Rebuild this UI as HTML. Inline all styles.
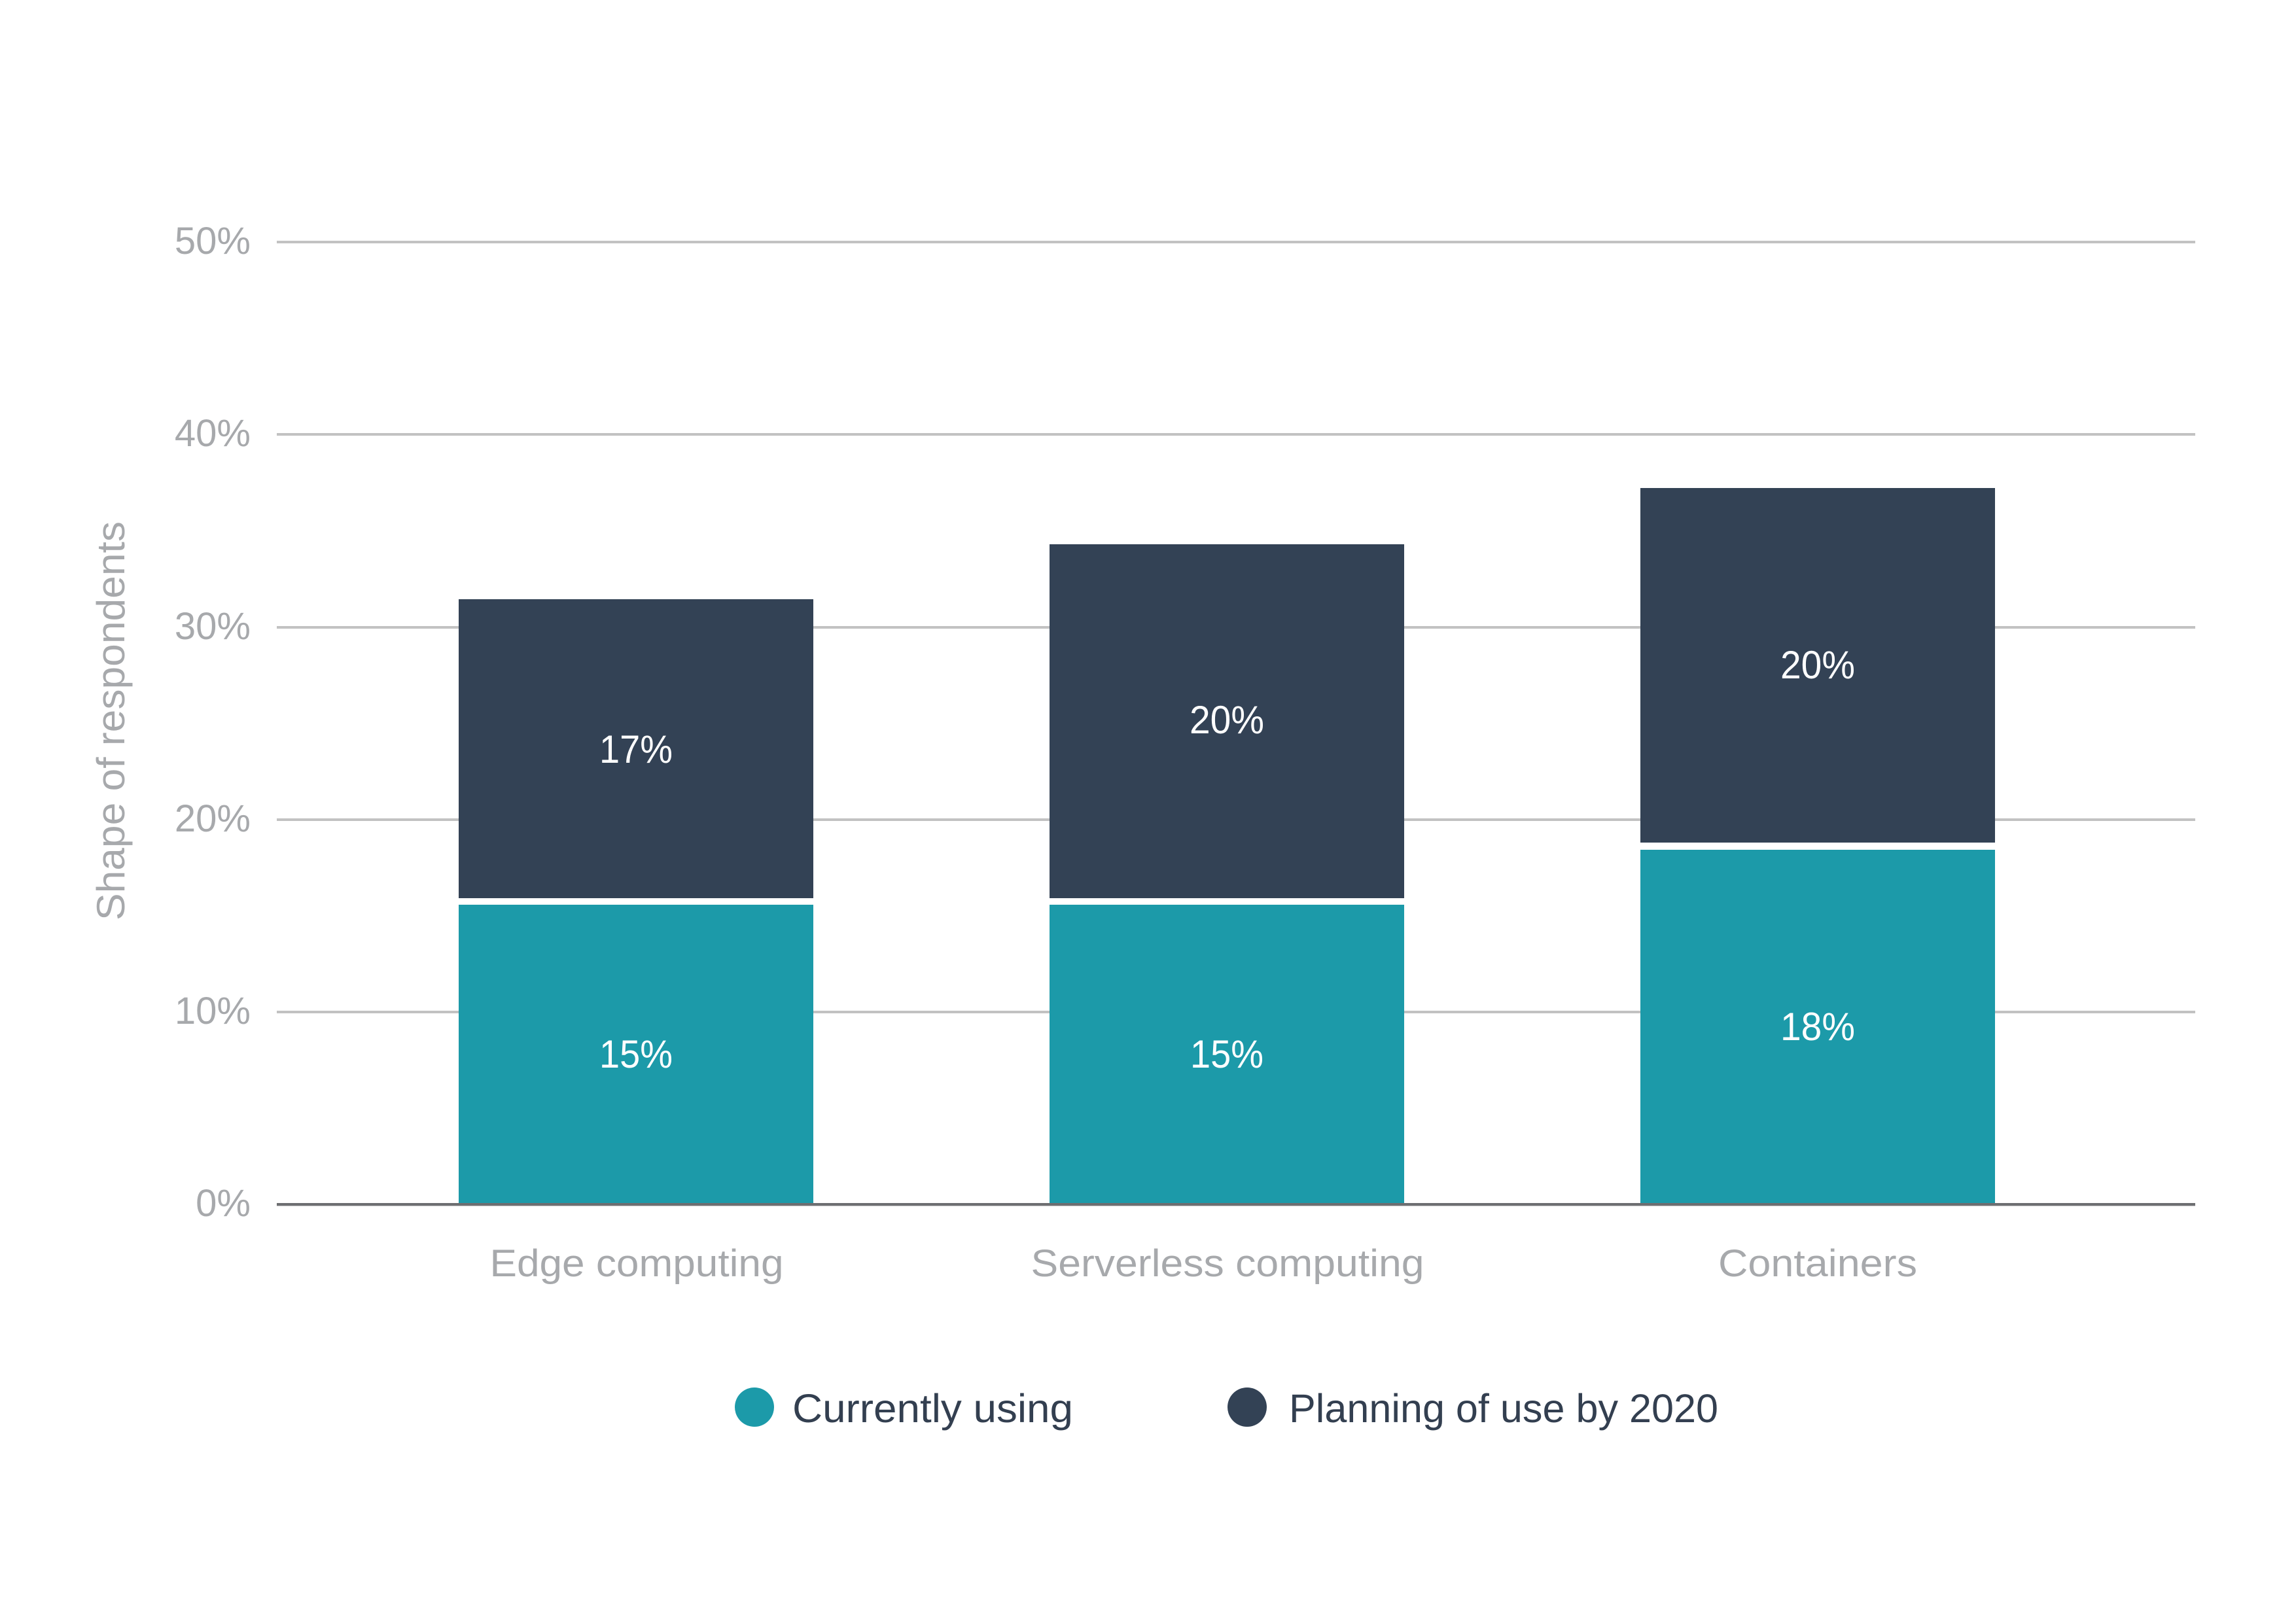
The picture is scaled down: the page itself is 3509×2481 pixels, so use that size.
<!DOCTYPE html>
<html>
<head>
<meta charset="utf-8">
<style>
html,body{margin:0;padding:0;background:#fff;}
svg{display:block;}
text{font-family:"Liberation Sans",sans-serif;}
</style>
</head>
<body>
<svg width="3509" height="2481" viewBox="0 0 3509 2481" xmlns="http://www.w3.org/2000/svg">
<rect width="3509" height="2481" fill="#ffffff"/>
<!-- gridlines -->
<g fill="#c2c2c2">
<rect x="423" y="368" width="2932" height="4"/>
<rect x="423" y="662" width="2932" height="4"/>
<rect x="423" y="957" width="2932" height="4"/>
<rect x="423" y="1251" width="2932" height="4"/>
<rect x="423" y="1545" width="2932" height="4"/>
</g>
<!-- bars -->
<g fill="#334255">
<rect x="701" y="916" width="542" height="457"/>
<rect x="1604" y="832" width="542" height="541"/>
<rect x="2507" y="746" width="542" height="542"/>
</g>
<g fill="#1c9aa9">
<rect x="701" y="1383" width="542" height="457"/>
<rect x="1604" y="1383" width="542" height="457"/>
<rect x="2507" y="1299" width="542" height="541"/>
</g>
<!-- axis -->
<rect x="423" y="1839" width="2932" height="4" fill="#6d6e71"/>
<rect x="423" y="1843" width="2932" height="1" fill="#c8c8c8"/>
<!-- y tick labels -->
<g fill="#a7a9ac" font-size="58" text-anchor="end">
<text x="383" y="388">50%</text>
<text x="383" y="682">40%</text>
<text x="383" y="977">30%</text>
<text x="383" y="1271">20%</text>
<text x="383" y="1565">10%</text>
<text x="383" y="1859">0%</text>
</g>
<!-- y title -->
<text transform="translate(190,1102) rotate(-90)" text-anchor="middle" fill="#a7a9ac" font-size="60" textLength="610" lengthAdjust="spacingAndGlyphs">Shape of respondents</text>
<!-- bar labels -->
<g fill="#ffffff" font-size="60" text-anchor="middle">
<text x="972" y="1166" textLength="112" lengthAdjust="spacingAndGlyphs">17%</text>
<text x="972" y="1632" textLength="112" lengthAdjust="spacingAndGlyphs">15%</text>
<text x="1875" y="1121" textLength="114" lengthAdjust="spacingAndGlyphs">20%</text>
<text x="1875" y="1632" textLength="112" lengthAdjust="spacingAndGlyphs">15%</text>
<text x="2778" y="1037" textLength="114" lengthAdjust="spacingAndGlyphs">20%</text>
<text x="2778" y="1590" textLength="114" lengthAdjust="spacingAndGlyphs">18%</text>
</g>
<!-- x labels -->
<g fill="#a7a9ac" font-size="58" text-anchor="middle">
<text x="973" y="1951" textLength="449" lengthAdjust="spacingAndGlyphs">Edge computing</text>
<text x="1876" y="1951" textLength="601" lengthAdjust="spacingAndGlyphs">Serverless computing</text>
<text x="2778" y="1951" textLength="304" lengthAdjust="spacingAndGlyphs">Containers</text>
</g>
<!-- legend -->
<circle cx="1153" cy="2151" r="30" fill="#1c9aa9"/>
<circle cx="1906" cy="2151" r="30" fill="#334255"/>
<g fill="#333f50" font-size="61">
<text x="1211" y="2174" textLength="429" lengthAdjust="spacingAndGlyphs">Currently using</text>
<text x="1970" y="2174" textLength="656" lengthAdjust="spacingAndGlyphs">Planning of use by 2020</text>
</g>
</svg>
</body>
</html>
